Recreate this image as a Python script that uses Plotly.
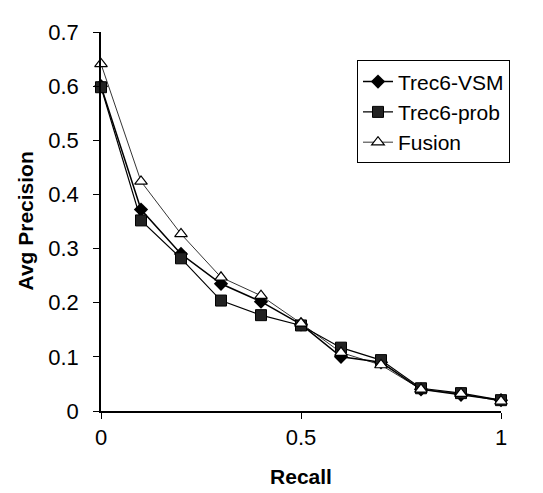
import plotly.graph_objects as go

recall = [0, 0.1, 0.2, 0.3, 0.4, 0.5, 0.6, 0.7, 0.8, 0.9, 1.0]
vsm = [0.600, 0.372, 0.290, 0.235, 0.202, 0.160, 0.100, 0.090, 0.040, 0.030, 0.020]
prob = [0.598, 0.352, 0.282, 0.204, 0.177, 0.158, 0.117, 0.094, 0.042, 0.033, 0.020]
fusion = [0.641, 0.424, 0.327, 0.247, 0.213, 0.162, 0.108, 0.085, 0.040, 0.032, 0.018]

fig = go.Figure()
fig.add_trace(go.Scatter(x=recall, y=vsm, name="Trec6-VSM", mode="lines+markers",
                         line=dict(color="black", width=1.5),
                         marker=dict(symbol="diamond", size=11, color="black"),
                         cliponaxis=False))
fig.add_trace(go.Scatter(x=recall, y=prob, name="Trec6-prob", mode="lines+markers",
                         line=dict(color="black", width=1.2),
                         marker=dict(symbol="square", size=11, color="#222222",
                                     line=dict(color="black", width=1)),
                         cliponaxis=False))
fig.add_trace(go.Scatter(x=recall, y=fusion, name="Fusion", mode="lines+markers",
                         line=dict(color="black", width=0.8),
                         marker=dict(symbol="triangle-up", size=11, color="white",
                                     line=dict(color="black", width=1.2)),
                         cliponaxis=False))

font = dict(family="Liberation Sans, Arial, sans-serif", size=22, color="black")
fig.update_layout(
    width=543, height=493,
    margin=dict(l=93, r=50, t=15, b=90),
    paper_bgcolor="white", plot_bgcolor="white",
    font=font,
    showlegend=True,
    legend=dict(x=0.64, y=0.925, xanchor="left", yanchor="top",
                bordercolor="black", borderwidth=1, bgcolor="white",
                font=dict(size=21), tracegroupgap=0),
    xaxis=dict(range=[0, 1], tickvals=[0, 0.5, 1], ticktext=["0", "0.5", "1"],
               showgrid=False, zeroline=False, showline=True, linecolor="black",
               linewidth=1.5, ticks="outside", ticklen=6, tickcolor="black",
               ticklabelstandoff=0,
               title=dict(text="<b>Recall</b>", font=dict(size=21), standoff=20)),
    yaxis=dict(range=[0, 0.7], dtick=0.1, tickformat=".1~f",
               showgrid=False, zeroline=False, showline=True, linecolor="black",
               linewidth=1.5, ticks="outside", ticklen=6, tickcolor="black",
               ticklabelstandoff=10),
    annotations=[dict(text="<b>Avg Precision</b>", xref="paper", yref="paper",
                      x=-0.19, y=0.5, xanchor="center", yanchor="middle",
                      textangle=-90, showarrow=False, font=dict(size=21))],
)
fig.write_html("out.html")
